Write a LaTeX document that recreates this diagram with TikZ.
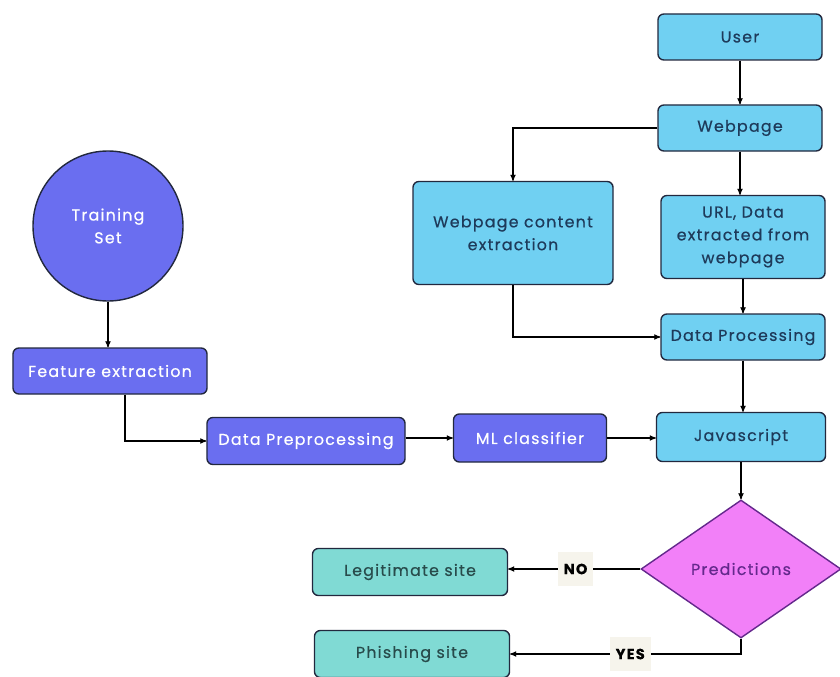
\documentclass[tikz,border=0pt]{standalone}
\usepackage{fontspec}
\setmainfont{Poppins}[LetterSpace=8,FakeBold=0.5]
\usepackage{xcolor}
\usetikzlibrary{arrows,shapes.geometric}
\definecolor{purp}{RGB}{106,110,240}
\definecolor{skyb}{RGB}{112,208,242}
\definecolor{tealb}{RGB}{128,218,212}
\definecolor{pinkb}{RGB}{242,128,248}
\definecolor{edgec}{RGB}{34,40,62}
\definecolor{navy}{RGB}{30,58,90}
\definecolor{tealtxt}{RGB}{40,75,75}
\definecolor{predtxt}{RGB}{100,40,140}
\definecolor{beige}{RGB}{246,244,236}

\begin{document}
\begin{tikzpicture}[x=0.03cm,y=-0.03cm,>=stealth',line width=0.9pt,
  box/.style={draw=edgec,line width=1.2pt,rounded corners=5pt,align=center,
    inner sep=2pt,font=\fontsize{13.5}{19.5}\selectfont},
  mlbox/.style={box,fill=purp,text=white},
  webbox/.style={box,fill=skyb,text=navy},
  sitebox/.style={box,fill=tealb,text=tealtxt},
  lbl/.style={fill=beige,inner xsep=5pt,inner ysep=10pt,font=\fontsize{12.5}{14}\selectfont\bfseries}]
\useasboundingbox (0,0) rectangle (840,677);

% right column
\node[webbox,minimum width=4.92cm,minimum height=1.38cm] (user) at (740,37) {User};
\node[webbox,minimum width=4.92cm,minimum height=1.38cm] (web) at (740,128) {Webpage};
\node[webbox,minimum width=6cm,minimum height=3.09cm] (cont) at (513,233) {Webpage content\\extraction};
\node[webbox,minimum width=4.92cm,minimum height=2.49cm] (url) at (743,237) {URL, Data\\extracted from\\webpage};
\node[webbox,minimum width=4.92cm,minimum height=1.38cm] (dproc) at (743,337) {Data Processing};
\node[webbox,minimum width=5.07cm,minimum height=1.47cm] (js) at (741,437) {Javascript};
\node[diamond,draw=predtxt,line width=1.2pt,fill=pinkb,text=predtxt,aspect=1.45,
  minimum width=6cm,minimum height=4.14cm,inner sep=0pt,
  font=\fontsize{13.5}{14}\selectfont] (pred) at (741,569) {Predictions};
\node[sitebox,minimum width=5.85cm,minimum height=1.41cm] (legit) at (410,572) {Legitimate site};
\node[sitebox,minimum width=5.85cm,minimum height=1.41cm] (phish) at (412,654) {Phishing site};

% left column
\node[circle,draw=edgec,line width=1.2pt,fill=purp,text=white,align=center,
  minimum size=4.5cm,font=\fontsize{13.5}{19.5}\selectfont] (train) at (108,226) {Training\\Set};
\node[mlbox,minimum width=5.82cm,minimum height=1.38cm] (feat) at (110,371) {Feature extraction};
\node[mlbox,minimum width=5.94cm,minimum height=1.41cm] (prep) at (306,441) {Data Preprocessing};
\node[mlbox,minimum width=4.59cm,minimum height=1.44cm] (mlc) at (530,438) {ML classifier};

\path[->]
  (user) edge (web)
  (web.south) edge (web.south |- url.north)
  (url.south) edge (url.south |- dproc.north)
  (dproc.south) edge (dproc.south |- js.north)
  (js) edge (pred)
  (train.south) edge (train.south |- feat.north)
  (prep.east |- mlc) edge (mlc)
  (mlc) edge (js.west |- mlc);

\draw[->] (web.west) -| (cont.north);
\draw[->] (cont.south) |- (dproc.west);
\draw[->] ([xshift=0.45cm]feat.south) |- (prep.west);
\draw[->] (pred.west) -- node[lbl,pos=0.49] {NO} (legit.east |- pred.west);
\draw[->] (pred.south) |- node[lbl,pos=0.74] {YES} (phish.east);
\end{tikzpicture}
\end{document}
